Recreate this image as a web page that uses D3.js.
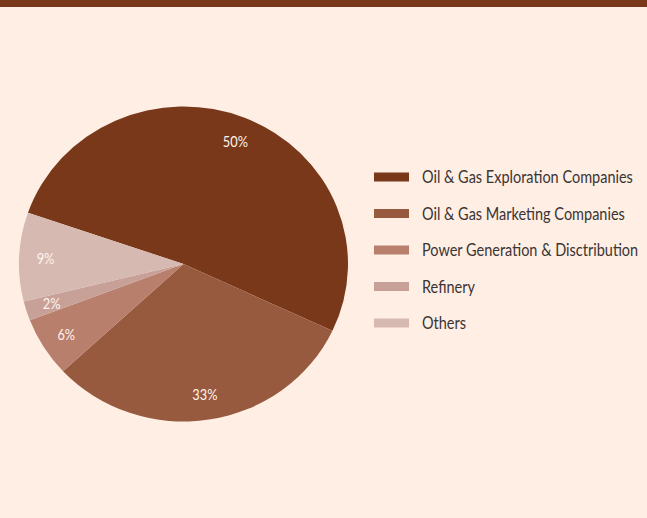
<!DOCTYPE html>
<html>
<head>
<meta charset="utf-8">
<script src="https://cdn.jsdelivr.net/npm/d3@7"></script>
<style>
  html, body { margin: 0; padding: 0; background: #ffeee4; }
  svg { display: block; }
</style>
</head>
<body>
<svg id="chart" width="647" height="518"></svg>
<script>
const categories = [
  "Oil & Gas Exploration Companies",
  "Oil & Gas Marketing Companies",
  "Power Generation & Disctribution",
  "Refinery",
  "Others"
];
const shares = [51.7, 31.1, 6.1, 2.0, 9.1];
const shareLabels = ["50%", "33%", "6%", "2%", "9%"];
const colors = ["#783819", "#985a3e", "#b97f6d", "#c7a198", "#d6bab2"];

const svg = d3.select("#chart");
const W = 647, H = 518;
svg.append("rect").attr("width", W).attr("height", H).attr("fill", "#ffeee4");
svg.append("rect").attr("width", W).attr("height", 7).attr("fill", "#783819");

const cx = 183.5, cy = 264, rx = 164.5, ry = 157.5;
const startDeg = -71;
const pie = d3.pie().sort(null)
  .startAngle(startDeg * Math.PI / 180)
  .endAngle(startDeg * Math.PI / 180 + 2 * Math.PI);
const arcs = pie(shares);
const arc = d3.arc().innerRadius(0).outerRadius(rx);
const labelArc = d3.arc().innerRadius(rx * 0.84).outerRadius(rx * 0.84);

const g = svg.append("g").attr("transform", `translate(${cx},${cy}) scale(1,${ry / rx})`);
g.selectAll("path").data(arcs).join("path")
  .attr("d", arc)
  .attr("fill", (d, i) => colors[i]);

const condense = 0.8;
svg.append("g").selectAll("text").data(arcs).join("text")
  .attr("transform", d => `translate(${cx + labelArc.centroid(d)[0]},${cy + labelArc.centroid(d)[1] * ry / rx}) scale(${condense},1)`)
  .attr("dy", "0.35em")
  .attr("text-anchor", "middle")
  .attr("font-family", "Lato, sans-serif")
  .attr("font-size", 16)
  .attr("fill", "#fff3ec")
  .text((d, i) => shareLabels[i]);

const legend = svg.append("g").attr("transform", "translate(374,177)");
const rowY = d3.scalePoint().domain(categories).range([0, 146]);
const rows = legend.selectAll("g").data(categories).join("g")
  .attr("transform", d => `translate(0,${rowY(d)})`);
rows.append("rect").attr("x", 0).attr("y", -4.5).attr("width", 35).attr("height", 9)
  .attr("fill", (d, i) => colors[i]);
const texts = rows.append("text")
  .attr("dy", "0.35em")
  .attr("font-family", "Lato, sans-serif").attr("font-size", 17.5)
  .attr("fill", "#3a3433")
  .text(d => d);
const w0 = texts.nodes()[0].getComputedTextLength();
const sx = Math.min(1, 211 / w0);
texts.attr("transform", `translate(48,0) scale(${sx},1)`);
</script>
</body>
</html>
